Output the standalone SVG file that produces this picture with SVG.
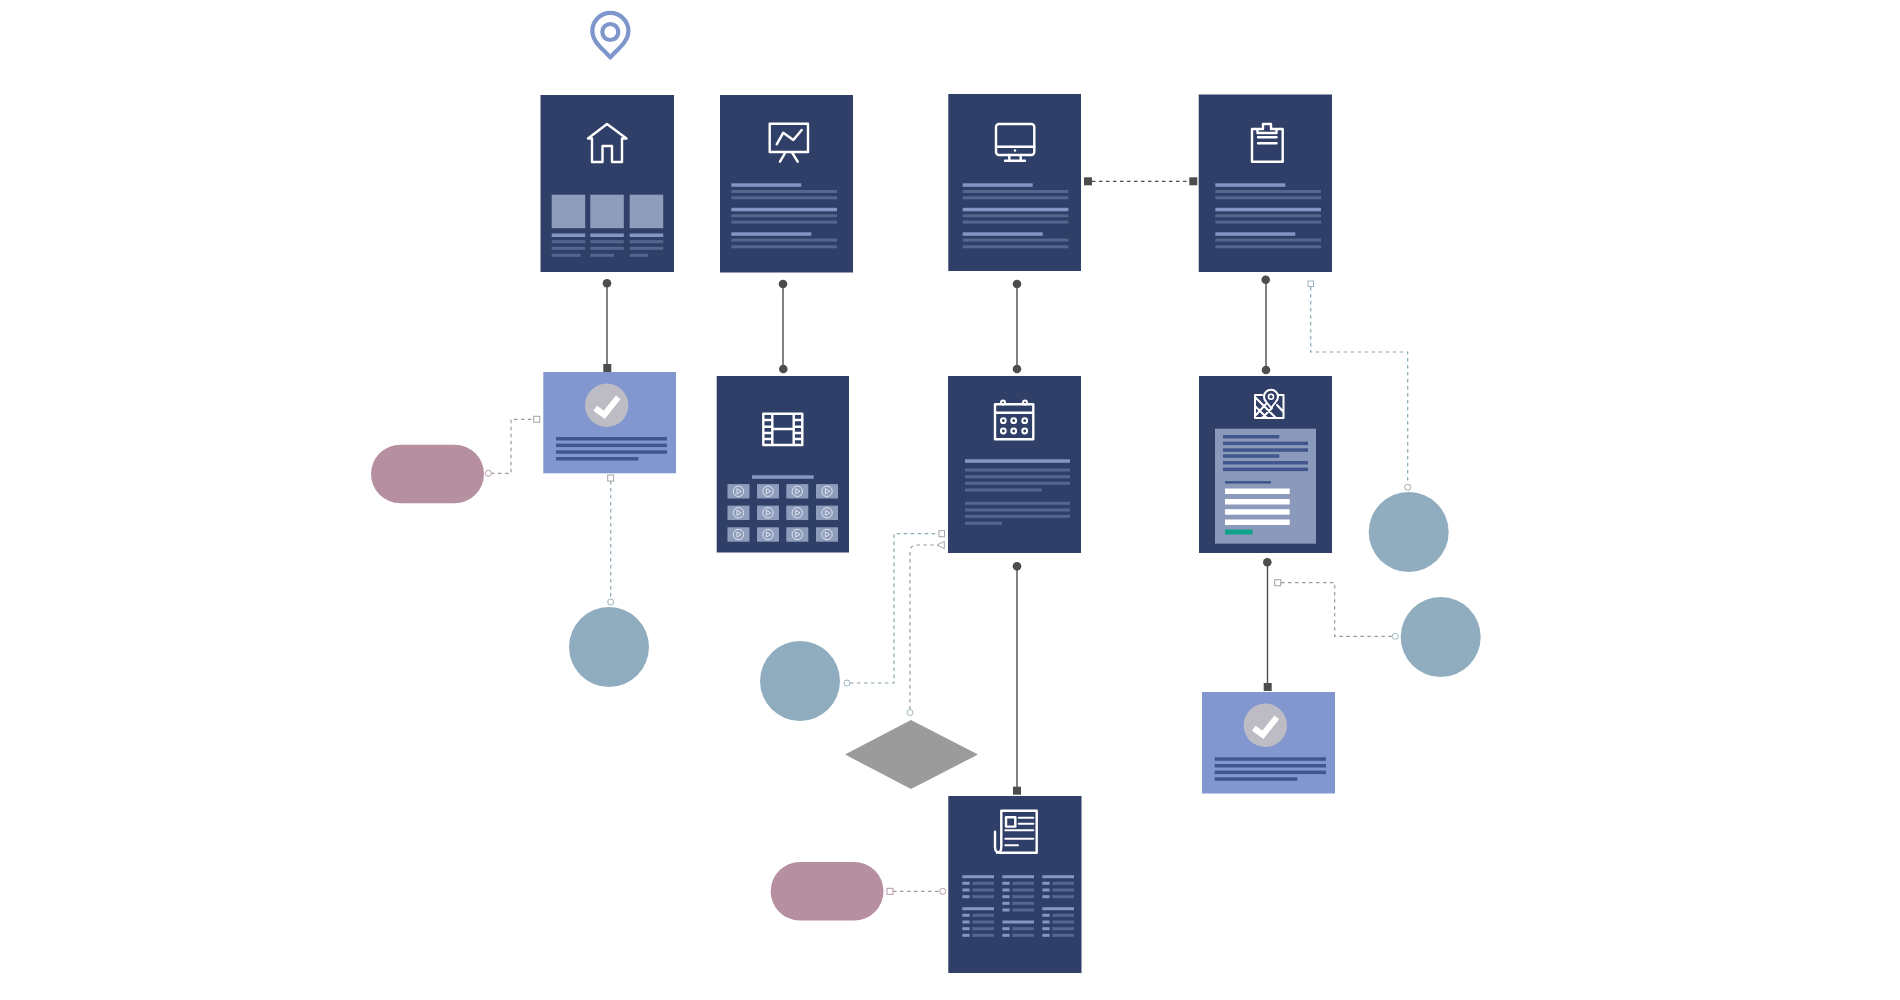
<svg xmlns="http://www.w3.org/2000/svg" width="1900" height="1000" viewBox="0 0 1900 1000">
<style>
.card{fill:#2f3f67}.blue{fill:#8297cf}.pill{fill:#b68fa1}.circ{fill:#90adbf}.dia{fill:#9b9b9b}
.h{fill:#8596c4}.s{fill:#55668f}.sq{fill:#8f9dbd}.d{fill:#41568c}.w{fill:#fff}
.ic{fill:none;stroke:#fff;stroke-width:2.4;stroke-linejoin:round;stroke-linecap:round}
.solid{fill:none;stroke:#4d4d4d;stroke-width:1.4}.end{fill:#4d4d4d}
.dash{fill:none;stroke-width:1.2;stroke-dasharray:3.5 3.5}.teal{stroke:#86a8b4}.gray{stroke:#9a9a9a}.dark{stroke:#4d4d4d;stroke-width:1.3}
.p{fill:#fff;stroke-width:1}.pt{stroke:#9db6c0}.pp{stroke:#b99aaa}.pg{stroke:#a5a5a5}
.pl{fill:none;stroke:#fff;stroke-width:.7}
</style>
<defs>
<g id="check"><circle r="21.7" fill="#bdbcc4"/><path d="M-11.5 3L-2.5 9.5L11.5-8" fill="none" stroke="#fff" stroke-width="6"/></g>
<g id="th"><rect x="-11" y="-7.2" width="22" height="14.4" class="sq"/><circle r="5.2" class="pl"/><path d="M-1.6-2.6L2.6 0L-1.6 2.6Z" class="pl"/></g>
<g id="tri"><rect width="31.7" height="3" class="h" y="-1.5"/></g>
<g id="r"><rect width="7.3" height="3" y="-1.5" class="h"/><rect x="10" width="21.7" height="3" y="-1.5" class="s"/></g>
<g id="txt">
<rect y="0" width="70" height="3.5" class="h"/><rect y="6.7" width="105.7" height="3" class="s"/><rect y="13" width="105.7" height="3" class="s"/>
<rect y="24.5" width="105.7" height="3.5" class="h"/><rect y="31" width="105.7" height="3" class="s"/><rect y="37.3" width="105.7" height="3" class="s"/>
<rect y="49" width="80" height="3.5" class="h"/><rect y="55.3" width="105.7" height="3" class="s"/><rect y="62" width="105.7" height="3" class="s"/>
</g>
</defs>

<g id="pin"><path d="M610.3 57.500C603 49 592.300 42 592.300 31A18 18 0 0 1 628.400 31C628.400 42 617.500 49 610.300 57.500Z" fill="none" stroke="#7f96cc" stroke-width="4.200" stroke-linejoin="round"/><circle cx="610.300" cy="32" r="8" fill="none" stroke="#7f96cc" stroke-width="4.200"/></g>

<g id="connectors">
<path class="solid" d="M607 283V368M783 284V369M1017 284V369M1266 280V370M1017 566V791M1267.500 562V687"/>
<circle class="end" cx="607" cy="283.300" r="4.300"/><rect class="end" x="603.300" y="364" width="8" height="8"/>
<circle class="end" cx="783" cy="284" r="4.300"/><circle class="end" cx="783.300" cy="369" r="4.300"/>
<circle class="end" cx="1017" cy="284" r="4.300"/><circle class="end" cx="1017" cy="369" r="4.300"/>
<circle class="end" cx="1265.700" cy="279.700" r="4.300"/><circle class="end" cx="1266" cy="370" r="4.300"/>
<circle class="end" cx="1017" cy="566.300" r="4.300"/><rect class="end" x="1013" y="786.700" width="8" height="8"/>
<circle class="end" cx="1267.300" cy="562.300" r="4.300"/><rect class="end" x="1263.700" y="683" width="8" height="8"/>
<path class="dash dark" d="M1092 181.300H1189"/><rect class="end" x="1084" y="177.300" width="8" height="8"/><rect class="end" x="1189.300" y="177.300" width="8" height="8"/>
<path class="dash gray" d="M491 473.300H511V419.300H533.700"/><circle class="p pp" cx="488.300" cy="473.300" r="3"/><rect class="p pg" x="533.700" y="416.300" width="6" height="6"/>
<path class="dash teal" d="M610.700 481V599"/><rect class="p pg" x="607.700" y="475" width="6" height="6"/><circle class="p pt" cx="610.700" cy="602" r="3"/>
<path class="dash teal" d="M1310.700 287V352H1407.700V484"/><rect class="p pt" x="1308" y="281" width="5.500" height="5.500"/><circle class="p pg" cx="1407.700" cy="487.300" r="3"/>
<path class="dash gray" d="M1281 582.700H1334.700V636.300H1392"/><rect class="p pg" x="1274.700" y="579.700" width="6" height="6"/><circle class="p pt" cx="1395.300" cy="636.300" r="3"/>
<path class="dash teal" d="M850 683H894V533.700H939"/><circle class="p pt" cx="847" cy="683" r="3"/><rect class="p pg" x="939" y="530.700" width="5.500" height="6"/>
<path class="dash gray" d="M910 709.500V552Q910 545 917 545H937"/><circle class="p pt" cx="910" cy="712.500" r="3"/><path class="p pg" d="M937 545L944.300 541.300V548.700Z"/>
<path class="dash gray" d="M893 891.300H940"/><rect class="p pp" x="887" y="888.300" width="6" height="6"/><circle class="p pp" cx="942.700" cy="891.300" r="3"/>
</g>

<g id="home">
<rect class="card" x="540.500" y="95" width="133.500" height="177"/>
<path class="ic" d="M607 124L588 138.500H592V162H602.500V146H612V162H622V138.500H626.500Z"/>
<rect class="sq" x="551.700" y="194.700" width="33.500" height="33.500"/><rect class="sq" x="590.300" y="194.700" width="33.500" height="33.500"/><rect class="sq" x="629.700" y="194.700" width="33.500" height="33.500"/>
<rect class="h" x="551.700" y="233.500" width="33.500" height="3.500"/><rect class="h" x="590.300" y="233.500" width="33.500" height="3.500"/><rect class="h" x="629.700" y="233.500" width="33.500" height="3.500"/>
<rect class="s" x="551.700" y="240.200" width="33.500" height="3"/><rect class="s" x="590.300" y="240.200" width="33.500" height="3"/><rect class="s" x="629.700" y="240.200" width="33.500" height="3"/>
<rect class="s" x="551.700" y="246.800" width="33.500" height="3"/><rect class="s" x="590.300" y="246.800" width="33.500" height="3"/><rect class="s" x="629.700" y="246.800" width="33.500" height="3"/>
<rect class="s" x="551.700" y="253.800" width="29" height="3"/><rect class="s" x="590.300" y="253.800" width="23.700" height="3"/><rect class="s" x="629.700" y="253.800" width="18.300" height="3"/>
</g>

<g id="presentation">
<rect class="card" x="720" y="95" width="133" height="177.500"/>
<path class="ic" d="M769.700 123.700H808V152H769.700ZM776.700 144.300L783.300 132.700L793.300 140L801.700 130M785.700 152L780 161.700M791.700 152L797.700 161.700"/>
<use href="#txt" x="731.300" y="183.300"/>
</g>

<g id="monitor">
<rect class="card" x="948.300" y="94" width="132.700" height="177"/>
<rect class="ic" x="996" y="124" width="38.300" height="31" rx="3"/><path class="ic" d="M996 146.700H1034.300M1009.300 155V160.300M1020.700 155V160.300M1005 160.800H1025"/><circle cx="1015" cy="150.500" r="1.200" fill="#fff"/>
<use href="#txt" x="962.700" y="183.300"/>
</g>

<g id="clipboard">
<rect class="card" x="1198.700" y="94.500" width="133.300" height="177.500"/>
<path class="ic" d="M1257.500 129H1252V161.700H1282.700V129H1276.500M1257.500 133V129H1263V124H1271V129H1276.500V133ZM1258 137.300H1276.500M1258 143.300H1276.500"/>
<use href="#txt" x="1215.300" y="183.300"/>
</g>

<g id="approval-1">
<rect class="blue" x="543.300" y="372" width="132.700" height="101.300"/>
<use href="#check" x="606.700" y="405.300"/>
<rect class="d" x="556" y="437" width="111" height="3.500"/><rect class="d" x="556" y="443.600" width="111" height="3.500"/><rect class="d" x="556" y="450.300" width="111" height="3.500"/><rect class="d" x="556" y="457" width="82.300" height="3.500"/>
</g>

<g id="film">
<rect class="card" x="716.700" y="376" width="132.300" height="176.500"/>
<path class="ic" d="M763.300 413.700H802.300V445H763.300ZM772.300 413.700V445M793.700 413.700V445M772.300 429H793.700M763.300 420H772.300M763.300 426.700H772.300M763.300 433H772.300M763.300 439H772.300M793.700 420H802.300M793.700 426.700H802.300M793.700 433H802.300M793.700 439H802.300"/>
<rect class="h" x="752" y="475.300" width="61.700" height="3.500"/>
<use href="#th" x="738.500" y="491.300"/><use href="#th" x="768" y="491.300"/><use href="#th" x="797.300" y="491.300"/><use href="#th" x="827" y="491.300"/>
<use href="#th" x="738.500" y="512.800"/><use href="#th" x="768" y="512.800"/><use href="#th" x="797.300" y="512.800"/><use href="#th" x="827" y="512.800"/>
<use href="#th" x="738.500" y="534.500"/><use href="#th" x="768" y="534.500"/><use href="#th" x="797.300" y="534.500"/><use href="#th" x="827" y="534.500"/>
</g>

<g id="calendar">
<rect class="card" x="948" y="376" width="133" height="177"/>
<path class="ic" d="M995 404.300H1033.300V439.300H995ZM995 412.700H1033.300"/>
<g fill="none" stroke="#fff" stroke-width="2"><circle cx="1003" cy="402.500" r="2"/><circle cx="1025" cy="402.500" r="2"/><circle cx="1003.300" cy="420.700" r="2.400"/><circle cx="1013.700" cy="420.700" r="2.400"/><circle cx="1024.700" cy="420.700" r="2.400"/><circle cx="1003.300" cy="431" r="2.400"/><circle cx="1013.700" cy="431" r="2.400"/><circle cx="1024.700" cy="431" r="2.400"/></g>
<rect class="h" x="965" y="459.300" width="105" height="3.500"/>
<rect class="s" x="965" y="468.500" width="105" height="3"/><rect class="s" x="965" y="475.200" width="105" height="3"/><rect class="s" x="965" y="481.800" width="105" height="3"/><rect class="s" x="965" y="488.500" width="76.700" height="3"/>
<rect class="s" x="965" y="501.800" width="105" height="3"/><rect class="s" x="965" y="508.500" width="105" height="3"/><rect class="s" x="965" y="514.800" width="105" height="3"/><rect class="s" x="965" y="521.800" width="37" height="3"/>
</g>

<g id="map">
<rect class="card" x="1199" y="376" width="133" height="177"/>
<path class="ic" style="stroke-width:2" d="M1262 395H1255V418H1283.500V395H1279M1255 397L1276 418M1255 406L1267 418M1262 418L1272 408M1255 416L1266 404M1277 405L1283.500 412"/>
<circle cx="1271" cy="396.700" r="7" fill="#2f3f67" stroke="#fff" stroke-width="2"/><circle cx="1271" cy="396.700" r="2.500" fill="none" stroke="#fff" stroke-width="1.600"/><path d="M1265.500 401L1271 408L1276.500 401" fill="#2f3f67" stroke="#fff" stroke-width="2"/>
<rect x="1215" y="428.700" width="101" height="115" fill="#8b99bb"/>
<rect class="d" x="1223" y="435" width="56.300" height="3.500"/><rect class="d" x="1223" y="441.600" width="85" height="3.500"/><rect class="d" x="1223" y="448.300" width="85" height="3.500"/><rect class="d" x="1223" y="454.300" width="56.300" height="3.500"/><rect class="d" x="1223" y="461" width="85" height="3.500"/><rect class="d" x="1223" y="467.600" width="85" height="3.500"/>
<rect class="d" x="1225" y="481" width="46" height="2.600"/>
<rect class="w" x="1225" y="488.500" width="64.700" height="5.500"/><rect class="w" x="1225" y="499" width="64.700" height="5.500"/><rect class="w" x="1225" y="509.200" width="64.700" height="5.500"/><rect class="w" x="1225" y="519.500" width="64.700" height="5.500"/>
<rect x="1225" y="529.500" width="27.500" height="5" fill="#0fa28a"/>
</g>

<g id="approval-2">
<rect class="blue" x="1202" y="692" width="133" height="101.500"/>
<use href="#check" x="1265.300" y="725.300"/>
<rect class="d" x="1214.700" y="757.300" width="111.300" height="3.500"/><rect class="d" x="1214.700" y="764" width="111.300" height="3.500"/><rect class="d" x="1214.700" y="770.600" width="111.300" height="3.500"/><rect class="d" x="1214.700" y="777.300" width="82.600" height="3.500"/>
</g>

<g id="news">
<rect class="card" x="948.300" y="796" width="133.200" height="177"/>
<path class="ic" d="M1001.300 810.700H1036.700V852.700H1000Q995 852.700 995 847V831.700M1001.300 810.700V847Q1001.300 852.700 997 852.700"/>
<rect class="ic" x="1006" y="817.300" width="9.300" height="9.300"/><path class="ic" style="stroke-width:2" d="M1018.700 817.700H1033.300M1018.700 823.700H1033.300M1005.300 830.300H1033.300M1005.300 838.700H1033.300M1005.300 845.300H1018"/>
<use href="#tri" x="962.300" y="876.700"/><use href="#r" x="962.300" y="883.300"/><use href="#r" x="962.300" y="890"/><use href="#r" x="962.300" y="896.700"/>
<use href="#tri" x="962.300" y="908.700"/><use href="#r" x="962.300" y="915.300"/><use href="#r" x="962.300" y="922"/><use href="#r" x="962.300" y="928.700"/><use href="#r" x="962.300" y="935.300"/>
<use href="#tri" x="1002.300" y="876.700"/><use href="#r" x="1002.300" y="883.300"/><use href="#r" x="1002.300" y="890"/><use href="#r" x="1002.300" y="896.700"/><use href="#r" x="1002.300" y="903.300"/><use href="#r" x="1002.300" y="910"/>
<use href="#tri" x="1002.300" y="922"/><use href="#r" x="1002.300" y="928.700"/><use href="#r" x="1002.300" y="935.300"/>
<use href="#tri" x="1042.300" y="876.700"/><use href="#r" x="1042.300" y="883.300"/><use href="#r" x="1042.300" y="890"/><use href="#r" x="1042.300" y="896.700"/>
<use href="#tri" x="1042.300" y="908.700"/><use href="#r" x="1042.300" y="915.300"/><use href="#r" x="1042.300" y="922"/><use href="#r" x="1042.300" y="928.700"/><use href="#r" x="1042.300" y="935.300"/>
</g>

<g id="pill-1"><rect class="pill" x="371" y="444.700" width="113" height="58.600" rx="29.300"/></g>
<g id="pill-2"><rect class="pill" x="770.700" y="862" width="112.800" height="58.600" rx="29.300"/></g>
<g id="circle-1"><circle class="circ" cx="609" cy="647" r="40"/></g>
<g id="circle-2"><circle class="circ" cx="800" cy="681" r="40"/></g>
<g id="circle-3"><circle class="circ" cx="1408.700" cy="532" r="40"/></g>
<g id="circle-4"><circle class="circ" cx="1440.700" cy="637" r="40"/></g>
<g id="decision"><path class="dia" d="M911 720L978 754.500L911 789L845 754.500Z"/></g>
</svg>
